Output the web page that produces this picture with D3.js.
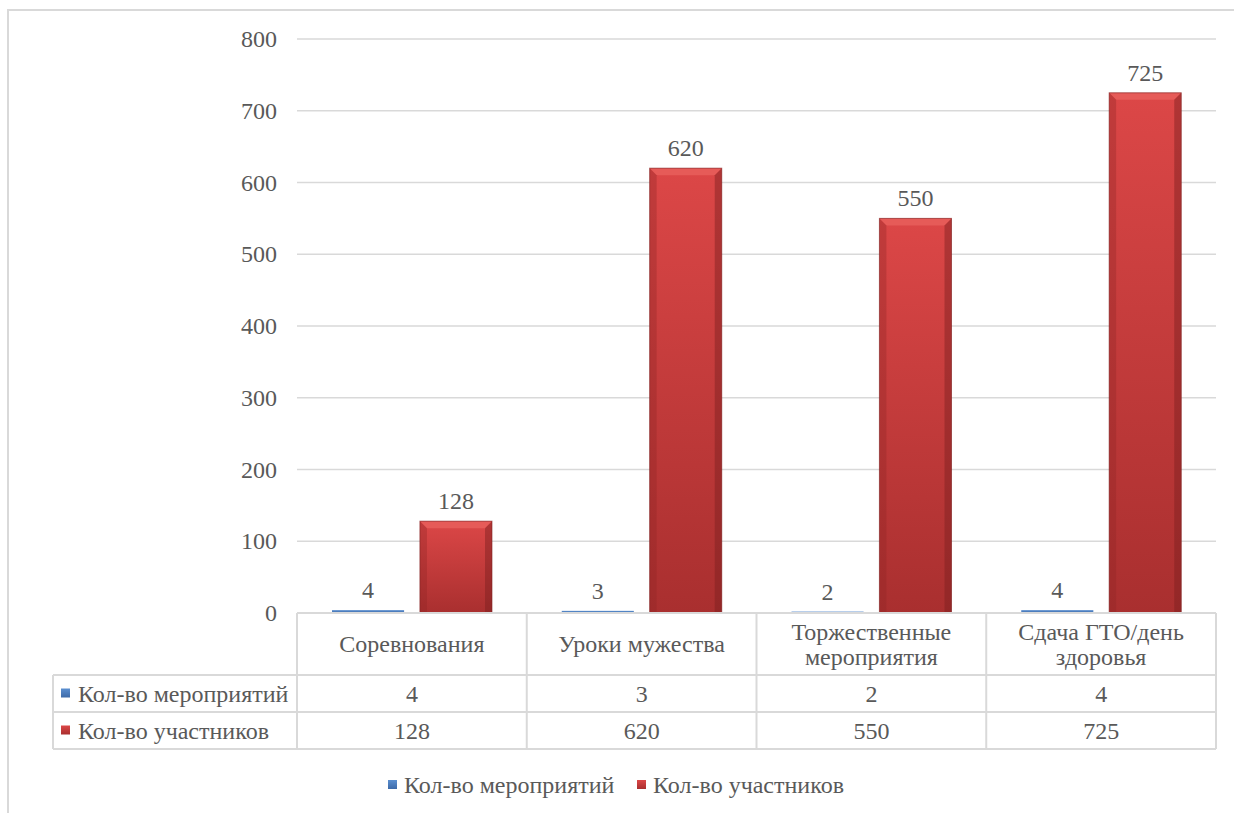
<!DOCTYPE html>
<html>
<head>
<meta charset="utf-8">
<script src="https://cdnjs.cloudflare.com/ajax/libs/d3/7.8.5/d3.min.js"></script>
</head>
<body style="margin:0">
<svg id="chart" width="1234" height="813"></svg>
<script>
var categories = [["Соревнования"], ["Уроки мужества"], ["Торжественные", "мероприятия"], ["Сдача ГТО/день", "здоровья"]];
var seriesNames = ["Кол-во мероприятий", "Кол-во участников"];
var eventsCount = [4, 3, 2, 4];
var participants = [128, 620, 550, 725];
var yTicks = [0, 100, 200, 300, 400, 500, 600, 700, 800];

var svg = d3.select("#chart");
var gridColor = "#d9d9d9";
var textColor = "#595959";
var fontSize = 24;
var fontStack = "'Times New Roman', 'Liberation Serif', Tinos, serif";

var plotLeft = 297, plotRight = 1216, plotTop = 39, plotBottom = 613;
var headerBottom = 675, row1Bottom = 712, row2Bottom = 749, tableLeft = 53;

// outer frame of the chart
svg.append("rect")
    .attr("x", 8).attr("y", 10)
    .attr("width", 1240).attr("height", 820)
    .attr("fill", "none").attr("stroke", gridColor).attr("stroke-width", 2);

var y = d3.scaleLinear().domain([0, 800]).range([plotBottom, plotTop]);
var x = d3.scaleBand().domain(d3.range(categories.length)).range([plotLeft, plotRight]);
var x1 = d3.scaleBand().domain(seriesNames).range([35, 195]).paddingInner(0.18);

// gradients
var defs = svg.append("defs");
function makeGradient(id, c1, c2) {
    var g = defs.append("linearGradient").attr("id", id)
        .attr("x1", 0).attr("y1", 0).attr("x2", 0).attr("y2", 1);
    g.append("stop").attr("offset", "0%").attr("stop-color", c1);
    g.append("stop").attr("offset", "100%").attr("stop-color", c2);
}
makeGradient("redGrad", "#dc4747", "#a92f2f");
makeGradient("blueGrad", "#5b8fd0", "#3d6aa8");

function addText(tx, ty, str, anchor) {
    return svg.append("text")
        .style("font-family", fontStack)
        .style("font-size", fontSize + "px")
        .attr("x", tx).attr("y", ty)
        .attr("text-anchor", anchor || "start")
        .attr("fill", textColor)
        .text(str);
}

// gridlines
svg.append("g").selectAll("line")
    .data(yTicks.filter(function(t){ return t > 0; }))
    .join("line")
    .attr("x1", plotLeft).attr("x2", plotRight)
    .attr("y1", function(d){ return y(d); }).attr("y2", function(d){ return y(d); })
    .attr("stroke", gridColor).attr("stroke-width", 1.5);

// y axis labels
yTicks.forEach(function(t){
    addText(277, y(t) + 8, String(t), "end");
});

// bars
var series = [
    { name: seriesNames[0], values: eventsCount, fill: "url(#blueGrad)", edge: "#2f5b94" },
    { name: seriesNames[1], values: participants, fill: "url(#redGrad)", edge: "#7f2222" }
];

series.forEach(function(s) {
    var g = svg.append("g");
    var bars = g.selectAll("g").data(s.values).join("g");
    bars.append("rect")
        .attr("x", function(d, i){ return x(i) + x1(s.name); })
        .attr("y", function(d){ return y(d); })
        .attr("width", x1.bandwidth())
        .attr("height", function(d){ return y(0) - y(d); })
        .attr("fill", s.fill);
    // bevel: lighter top, darker sides
    if (s.name == seriesNames[1]) {
        var b = 7;
        bars.append("path")
            .attr("d", function(d, i){
                var x0 = x(i) + x1(s.name), w = x1.bandwidth(), y0 = y(d);
                return "M" + x0 + "," + y0 + "L" + (x0 + w) + "," + y0 +
                    "L" + (x0 + w - b) + "," + (y0 + b) + "L" + (x0 + b) + "," + (y0 + b) + "Z";
            })
            .attr("fill", "#e8605c").attr("opacity", 0.8);
        bars.append("path")
            .attr("d", function(d, i){
                var x0 = x(i) + x1(s.name), y0 = y(d);
                return "M" + x0 + "," + y0 + "L" + (x0 + b) + "," + (y0 + b) +
                    "L" + (x0 + b) + "," + y(0) + "L" + x0 + "," + y(0) + "Z";
            })
            .attr("fill", "#8e2525").attr("opacity", 0.35);
        bars.append("path")
            .attr("d", function(d, i){
                var x0 = x(i) + x1(s.name), w = x1.bandwidth(), y0 = y(d);
                return "M" + (x0 + w) + "," + y0 + "L" + (x0 + w - b) + "," + (y0 + b) +
                    "L" + (x0 + w - b) + "," + y(0) + "L" + (x0 + w) + "," + y(0) + "Z";
            })
            .attr("fill", "#7a1f1f").attr("opacity", 0.45);
        bars.append("rect")
            .attr("x", function(d, i){ return x(i) + x1(s.name); })
            .attr("y", function(d){ return y(d); })
            .attr("width", x1.bandwidth())
            .attr("height", function(d){ return y(0) - y(d); })
            .attr("fill", "none").attr("stroke", s.edge).attr("stroke-width", 1).attr("opacity", 0.6);
    }
    // value labels
    s.values.forEach(function(v, i){
        addText(x(i) + x1(s.name) + x1.bandwidth() / 2, y(v) - 12, String(v), "middle");
    });
});

// data table
var table = svg.append("g").attr("stroke", gridColor).attr("stroke-width", 2).attr("fill", "none");
table.append("line").attr("x1", plotLeft).attr("x2", plotRight).attr("y1", plotBottom).attr("y2", plotBottom);
[headerBottom, row1Bottom, row2Bottom].forEach(function(yy){
    table.append("line").attr("x1", tableLeft).attr("x2", plotRight).attr("y1", yy).attr("y2", yy);
});
d3.range(categories.length + 1).forEach(function(i){
    var xx = i < categories.length ? x(i) : plotRight;
    table.append("line").attr("x1", xx).attr("x2", xx).attr("y1", plotBottom).attr("y2", row2Bottom);
});
table.append("line").attr("x1", tableLeft).attr("x2", tableLeft).attr("y1", headerBottom).attr("y2", row2Bottom);

// header texts
categories.forEach(function(lines, i){
    var cx = x(i) + x.bandwidth() / 2;
    var midY = (plotBottom + headerBottom) / 2;
    var lh = 25;
    lines.forEach(function(line, k){
        addText(cx, midY + 8 + (k - (lines.length - 1) / 2) * lh, line, "middle");
    });
});

// row values and row headers
var rowTops = [headerBottom, row1Bottom];
var rowBottoms = [row1Bottom, row2Bottom];
series.forEach(function(s, r){
    var midY = (rowTops[r] + rowBottoms[r]) / 2;
    s.values.forEach(function(v, i){
        addText(x(i) + x.bandwidth() / 2, midY + 8, String(v), "middle");
    });
    svg.append("rect")
        .attr("x", 61).attr("y", midY - 5).attr("width", 9).attr("height", 9)
        .attr("fill", s.fill);
    addText(78, midY + 8, s.name);
});

// legend
var legendX = [388, 637];
series.forEach(function(s, i){
    svg.append("rect")
        .attr("x", legendX[i]).attr("y", 780).attr("width", 9).attr("height", 9)
        .attr("fill", s.fill);
    addText(legendX[i] + 16, 793, s.name);
});
</script>
</body>
</html>
